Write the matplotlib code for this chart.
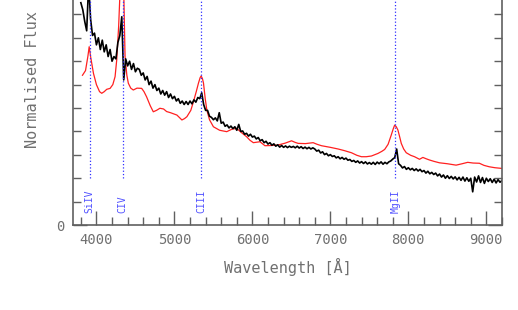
import numpy as np
import matplotlib
matplotlib.use("Agg")
import matplotlib.pyplot as plt
from matplotlib.ticker import MultipleLocator, FixedLocator

# observed spectrum, sampled every 25 A from 3800 to 9200 A
wave_obs = np.arange(3800, 9201, 25)
flux_obs = [
    0.95, 0.92, 0.87, 0.83, 1.03, 0.88, 0.81, 0.82, 0.77, 0.80,
    0.75, 0.79, 0.74, 0.77, 0.72, 0.75, 0.70, 0.72, 0.71, 0.78,
    0.81, 0.89, 0.62, 0.71, 0.68, 0.70, 0.665, 0.69, 0.655, 0.67,
    0.665, 0.64, 0.65, 0.62, 0.635, 0.60, 0.615, 0.585, 0.60, 0.575,
    0.585, 0.56, 0.575, 0.555, 0.57, 0.545, 0.56, 0.54, 0.55, 0.53,
    0.54, 0.52, 0.53, 0.515, 0.528, 0.515, 0.53, 0.518, 0.535, 0.525,
    0.545, 0.54, 0.565, 0.515, 0.49, 0.49, 0.465, 0.46, 0.45, 0.458,
    0.445, 0.48, 0.435, 0.44, 0.422, 0.428, 0.415, 0.423, 0.412, 0.42,
    0.405, 0.43, 0.40, 0.402, 0.388, 0.392, 0.38, 0.388, 0.376, 0.38,
    0.368, 0.374, 0.36, 0.365, 0.352, 0.358, 0.346, 0.352, 0.341, 0.347,
    0.337, 0.343, 0.333, 0.34, 0.332, 0.338, 0.331, 0.337, 0.332, 0.336,
    0.33, 0.337, 0.329, 0.335, 0.327, 0.333, 0.326, 0.332, 0.325, 0.33,
    0.325, 0.316, 0.32, 0.308, 0.313, 0.301, 0.306, 0.296, 0.301, 0.293,
    0.296, 0.287, 0.292, 0.283, 0.289, 0.281, 0.286, 0.277, 0.28, 0.272,
    0.276, 0.268, 0.274, 0.265, 0.271, 0.263, 0.27, 0.261, 0.267, 0.26,
    0.268, 0.259, 0.269, 0.262, 0.27, 0.26, 0.268, 0.262, 0.27, 0.274,
    0.282, 0.288, 0.325, 0.262, 0.255, 0.244, 0.25, 0.238, 0.245, 0.236,
    0.242, 0.233, 0.24, 0.231, 0.238, 0.228, 0.233, 0.222, 0.23, 0.219,
    0.225, 0.216, 0.222, 0.21, 0.218, 0.205, 0.214, 0.2, 0.211, 0.199,
    0.208, 0.197, 0.206, 0.193, 0.204, 0.191, 0.205, 0.188, 0.202, 0.187,
    0.2, 0.142, 0.205, 0.184, 0.21, 0.182, 0.203, 0.178, 0.2, 0.186,
    0.198, 0.182, 0.196, 0.18, 0.194, 0.183, 0.19,
]

# composite template (red)
wave_tpl = [3821, 3860, 3890, 3907, 3925, 3962, 4000, 4040, 4068, 4100,
            4132, 4175, 4210, 4239, 4260, 4285, 4303, 4320, 4337, 4350,
            4367, 4390, 4409, 4440, 4473, 4520, 4580, 4610, 4643, 4690,
            4729, 4770, 4814, 4861, 4900, 4950, 5032, 5096, 5130, 5160,
            5210, 5244, 5280, 5308, 5330, 5343, 5360, 5373, 5395, 5416,
            5450, 5500, 5580, 5671, 5740, 5799, 5860, 5927, 5970, 6012,
            6097, 6161, 6250, 6331, 6420, 6502, 6550, 6587, 6680, 6779,
            6830, 6886, 7000, 7099, 7180, 7270, 7340, 7398, 7460, 7526,
            7610, 7660, 7696, 7740, 7781, 7805, 7824, 7845, 7866, 7890,
            7909, 7940, 7973, 8030, 8079, 8143, 8186, 8230, 8271, 8330,
            8399, 8500, 8612, 8690, 8761, 8830, 8911, 8970, 9038, 9110,
            9200]
flux_tpl = [0.64, 0.66, 0.72, 0.762, 0.72, 0.648, 0.60, 0.57, 0.563, 0.57,
            0.58, 0.584, 0.60, 0.634, 0.705, 0.85, 1.0, 1.3, 1.4, 1.0,
            0.72, 0.64, 0.606, 0.585, 0.577, 0.585, 0.584, 0.57, 0.548, 0.51,
            0.484, 0.49, 0.499, 0.496, 0.485, 0.48, 0.47, 0.449, 0.455, 0.463,
            0.49, 0.527, 0.57, 0.606, 0.63, 0.637, 0.625, 0.606, 0.54, 0.491,
            0.45, 0.42, 0.405, 0.399, 0.41, 0.413, 0.395, 0.377, 0.362, 0.352,
            0.356, 0.339, 0.34, 0.342, 0.35, 0.36, 0.353, 0.349, 0.348, 0.352,
            0.345, 0.339, 0.332, 0.325, 0.318, 0.309, 0.298, 0.292, 0.292, 0.295,
            0.306, 0.315, 0.323, 0.345, 0.385, 0.41, 0.427, 0.42, 0.406, 0.375,
            0.349, 0.325, 0.309, 0.298, 0.292, 0.281, 0.289, 0.283, 0.278, 0.272,
            0.266, 0.262, 0.256, 0.262, 0.268, 0.265, 0.264, 0.255, 0.249, 0.245,
            0.242]

# emission lines at z = 1.80
line_names = ["SiIV", "CIV", "CIII", "MgII"]
line_waves = [3912, 4337, 5345, 7834]

grey = "#606060"
text_grey = "#707070"
mono = "DejaVu Sans Mono"
fig = plt.figure(figsize=(5.18, 3.10), dpi=100)
ax = fig.add_axes([0.141, 0.274, 0.828, 0.755])

ax.plot(wave_tpl, flux_tpl, color="#ff2020", lw=0.9)
ax.plot(wave_obs, flux_obs, color="black", lw=1.2)

for name, w in zip(line_names, line_waves):
    ax.plot([w, w], [0.2, 1.0], color="#3030ff", ls=":", lw=0.9)
    ax.text(w, 0.05, name, rotation=90, ha="center", va="bottom",
            color="#5050ff", fontsize=7, family=mono)

ax.set_xlim(3700, 9200)
ax.set_ylim(0, 1)
ax.xaxis.set_major_locator(MultipleLocator(1000))
ax.xaxis.set_minor_locator(MultipleLocator(200))
ax.yaxis.set_major_locator(FixedLocator([0]))
ax.yaxis.set_minor_locator(MultipleLocator(0.1))
ax.tick_params(which="both", direction="in", colors=grey, right=True,
               labelsize=10, pad=6, labelcolor=text_grey)
ax.tick_params(which="major", length=10, width=1)
ax.tick_params(which="minor", length=6, width=1)
for lab in ax.get_xticklabels() + ax.get_yticklabels():
    lab.set_family(mono)
ax.spines["top"].set_visible(False)
for s in ["left", "right", "bottom"]:
    ax.spines[s].set_color(grey)
    ax.spines[s].set_linewidth(1.2)

ax.set_xlabel("Wavelength [Å]", color=text_grey, fontsize=11, family=mono)
ax.set_ylabel("Normalised Flux", color=text_grey, fontsize=11, family=mono)
ax.xaxis.set_label_coords(0.5, -0.14)
ax.yaxis.set_label_coords(-0.077, 0.62)

fig.savefig("out.png", dpi=100)
